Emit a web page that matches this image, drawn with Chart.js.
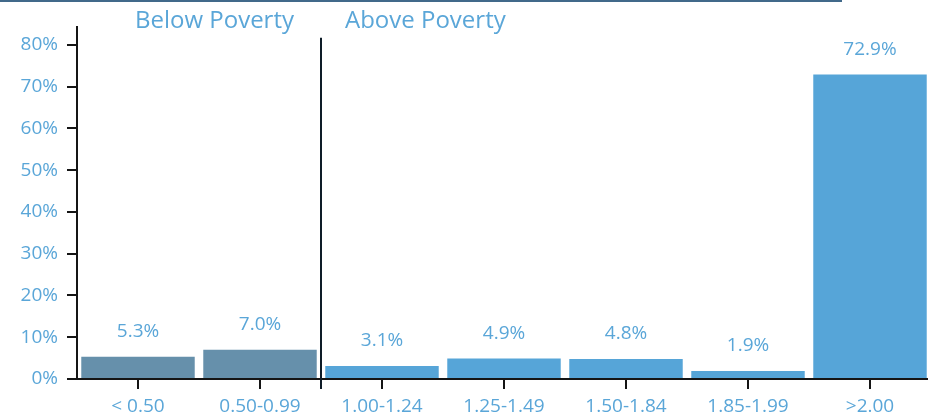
<!DOCTYPE html>
<html><head><meta charset="utf-8">
<script src="https://cdn.jsdelivr.net/npm/chart.js@4/dist/chart.umd.min.js"></script>
<style>
html,body{margin:0;padding:0;background:#fff;overflow:hidden;width:928px;height:418px;}
#wrap{width:931px;height:418px;position:relative;}
</style></head>
<body><div id="wrap"><canvas id="c"></canvas></div>
<script>
const categories = ["< 0.50","0.50-0.99","1.00-1.24","1.25-1.49","1.50-1.84","1.85-1.99",">2.00"];
const values = [5.3,7.0,3.1,4.9,4.8,1.9,72.9];
const valueLabels = ["5.3%","7.0%","3.1%","4.9%","4.8%","1.9%","72.9%"];
const yTicks = [0,10,20,30,40,50,60,70,80];
const groupLabels = ["Below Poverty","Above Poverty"];
const belowCount = 2;

const txtColor = '#5aa6d8';
const axisColor = '#151515';
const FONT = '"Open Sans", Lato, sans-serif';

const deco = {
  id:'deco',
  afterDatasetsDraw(chart){
    const {ctx, scales:{x,y}} = chart;
    const meta = chart.getDatasetMeta(0);
    ctx.save();
    ctx.fillStyle = txtColor;
    ctx.font = '19px ' + FONT;
    ctx.textAlign = 'center';
    ctx.textBaseline = 'middle';
    meta.data.forEach((b,i)=>{
      ctx.fillText(valueLabels[i], b.x, b.y - 25);
    });
    const xd = (x.getPixelForValue(belowCount-1) + x.getPixelForValue(belowCount))/2;
    ctx.strokeStyle = '#0e1c28';
    ctx.lineWidth = 2;
    ctx.beginPath();
    ctx.moveTo(xd, y.getPixelForValue(81.7));
    ctx.lineTo(xd, y.getPixelForValue(0) + 10);
    ctx.stroke();
    ctx.font = '24px ' + FONT;
    ctx.textBaseline = 'middle';
    ctx.textAlign = 'right';
    ctx.fillText(groupLabels[0], xd - 27, 21);
    ctx.textAlign = 'left';
    ctx.fillText(groupLabels[1], xd + 24, 21);
    ctx.fillStyle = '#41698a';
    ctx.fillRect(0, 0, 842, 2);
    ctx.restore();
  }
};

new Chart(document.getElementById('c'), {
  type:'bar',
  data:{
    labels: categories,
    datasets:[{
      data: values,
      backgroundColor: values.map((v,i)=> i < belowCount ? '#6690ab' : '#56a5d8'),
      borderWidth:0,
      barPercentage:0.93,
      categoryPercentage:1.0
    }]
  },
  options:{
    responsive:true,
    maintainAspectRatio:false,
    animation:false,
    layout:{padding:{top:27,left:0,right:0,bottom:0}},
    plugins:{legend:{display:false},tooltip:{enabled:false}},
    scales:{
      x:{
        grid:{offset:false,drawOnChartArea:false,drawTicks:true,tickLength:10,color:axisColor,lineWidth:2},
        border:{display:true,color:axisColor,width:2},
        ticks:{color:txtColor,font:{family:FONT,size:19},padding:6,maxRotation:0,autoSkip:false},
        afterFit(s){ s.height = 39; }
      },
      y:{
        min:0,max:84.3,
        afterBuildTicks(s){ s.ticks = yTicks.map(v=>({value:v})); },
        grid:{drawOnChartArea:false,drawTicks:true,tickLength:10,color:axisColor,lineWidth:2},
        border:{display:true,color:axisColor,width:2},
        ticks:{color:txtColor,font:{family:FONT,size:19},padding:9,callback:v=>v+'%'},
        afterFit(s){ s.width = 77; }
      }
    }
  },
  plugins:[deco]
});
</script></body></html>
